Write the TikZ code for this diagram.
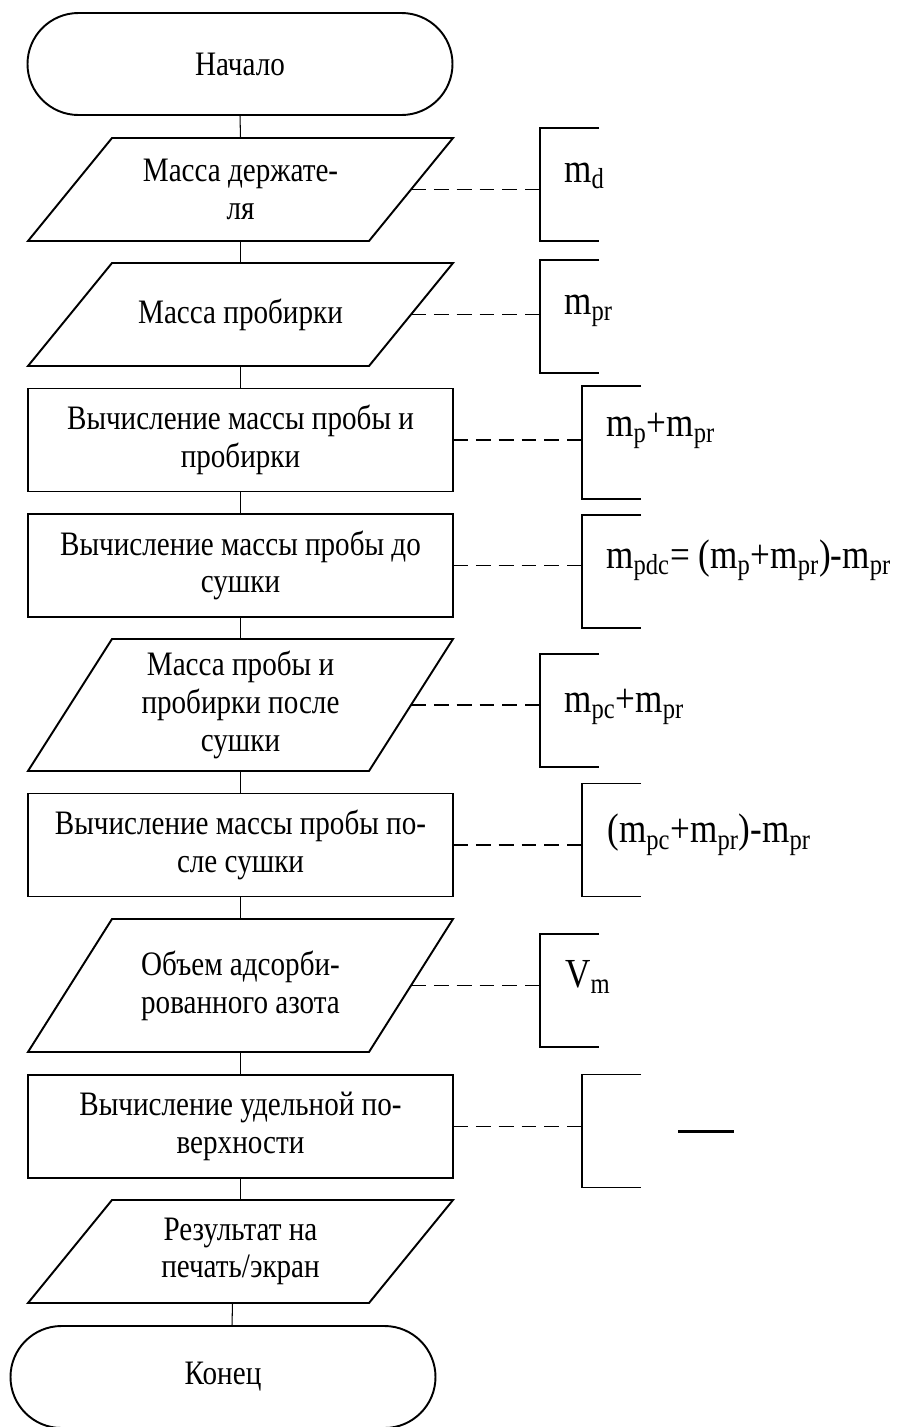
\documentclass[tikz,border=0pt]{standalone}
\usepackage{fontspec}
\setmainfont[FakeStretch=0.85]{Liberation Serif}
\usetikzlibrary{shapes.misc}

\begin{document}
\begin{tikzpicture}[
    txt/.style={font=\fontsize{19.5}{21.5}\selectfont, align=center, inner sep=0pt, outer sep=0pt},
    term/.style={txt, draw, line width=1.1pt, rounded rectangle, minimum width=8.5cm, minimum height=2.04cm},
    proc/.style={txt, draw, line width=1.1pt, minimum width=8.5cm, minimum height=2.06cm},
    io/.style={txt, minimum width=8.5cm, minimum height=2.06cm},
    shp/.style={line width=1.1pt},
    brk/.style={minimum width=1.18cm, minimum height=2.26cm, inner sep=0pt, outer sep=0pt},
    brkline/.style={line width=0.85pt},
    val/.style={font=\fontsize{23.5}{27}\selectfont, anchor=base west, inner sep=0pt},
    link/.style={line width=0.85pt, dash pattern=on 8.5pt off 4.5pt},
    conn/.style={line width=0.6pt}
  ]
  % slant of the input/output boxes
  \def\sl{1.68}
  \useasboundingbox (0,0) rectangle (18.02,-28.54);

  % --- Main flow ---
  \node[term] (start) at (4.80, -1.28) {Начало};
  \node[io] (p1) at (4.81, -3.79) {Масса держате-\\ля};
  \node[io] (p2) at (4.81, -6.29) {Масса пробирки};
  \node[proc] (r1) at (4.81, -8.80) {Вычисление массы пробы и\\пробирки};
  \node[proc] (r2) at (4.81, -11.31) {Вычисление массы пробы до\\сушки};
  \node[io, minimum height=2.64cm] (p3) at (4.81, -14.10) {Масса пробы и\\пробирки после\\сушки};
  \node[proc] (r3) at (4.81, -16.90) {Вычисление массы пробы по-\\сле сушки};
  \node[io, minimum height=2.66cm] (p4) at (4.81, -19.71) {Объем адсорби-\\рованного азота};
  \node[proc] (r4) at (4.81, -22.53) {Вычисление удельной по-\\верхности};
  \node[io] (p5) at (4.81, -25.03) {Результат на\\печать/экран};
  \node[term] (stop) at (4.46, -27.54) {Конец};

  % parallelogram outlines
  \foreach \n in {p1,p2,p3,p4,p5}
    \draw[shp] ([xshift=\sl cm]\n.north west) -- (\n.north east)
      -- ([xshift=-\sl cm]\n.south east) -- (\n.south west) -- cycle;

  % connectors
  \foreach \a/\b in {start/p1,p1/p2,p2/r1,r1/r2,r2/p3,p3/r3,r3/p4,p4/r4,r4/p5}
    \draw[conn] (\a.south) -- (\b.north);
  \draw[conn] ([xshift=-0.16cm]p5.south) -- ([xshift=0.18cm]stop.north);

  % --- Comments (brackets) ---
  \node[brk] (md) at (11.39, -3.69) {};
  \node[brk] (mpr) at (11.39, -6.33) {};
  \node[brk] (msum) at (12.23, -8.85) {};
  \node[brk] (mpdc) at (12.23, -11.43) {};
  \node[brk] (mpc) at (11.39, -14.21) {};
  \node[brk] (mdry) at (12.23, -16.80) {};
  \node[brk] (vm) at (11.39, -19.81) {};
  \node[brk] (sud) at (12.23, -22.62) {};

  \foreach \b in {md,mpr,msum,mpdc,mpc,mdry,vm,sud}
    \draw[brkline] (\b.north east) -- (\b.north west) -- (\b.south west) -- (\b.south east);

  \node[val] (tmd) at ([shift={(0.48,-1.08)}]md.north west) {m\textsubscript{d}};
  \node[val] (tmpr) at ([shift={(0.48,-1.08)}]mpr.north west) {m\textsubscript{pr}};
  \node[val] (tmsum) at ([shift={(0.48,-1.0)}]msum.north west) {m\textsubscript{p}+m\textsubscript{pr}};
  \node[val] (tmpdc) at ([shift={(0.48,-1.06)}]mpdc.north west) {m\textsubscript{pdc}= (m\textsubscript{p}+m\textsubscript{pr})-m\textsubscript{pr}};
  \node[val] (tmpc) at ([shift={(0.48,-1.16)}]mpc.north west) {m\textsubscript{pc}+m\textsubscript{pr}};
  \node[val] (tmdry) at ([shift={(0.5,-1.18)}]mdry.north west) {(m\textsubscript{pc}+m\textsubscript{pr})-m\textsubscript{pr}};
  \node[val] (tvm) at ([shift={(0.5,-1.06)}]vm.north west) {V\textsubscript{m}};
  \draw[line width=1.5pt] ([shift={(1.92,-1.14)}]sud.north west) -- ++(1.12,0);

  % dashed links
  \foreach \n/\b in {p1/md,p2/mpr,p3/mpc,p4/vm}
    \draw[link] ([xshift=-\sl cm/2]\n.east) -- (\b.west |- \n.east);
  \foreach \n/\b in {r1/msum,r2/mpdc,r3/mdry,r4/sud}
    \draw[link] (\n.east) -- (\b.west |- \n.east);

\end{tikzpicture}
\end{document}
